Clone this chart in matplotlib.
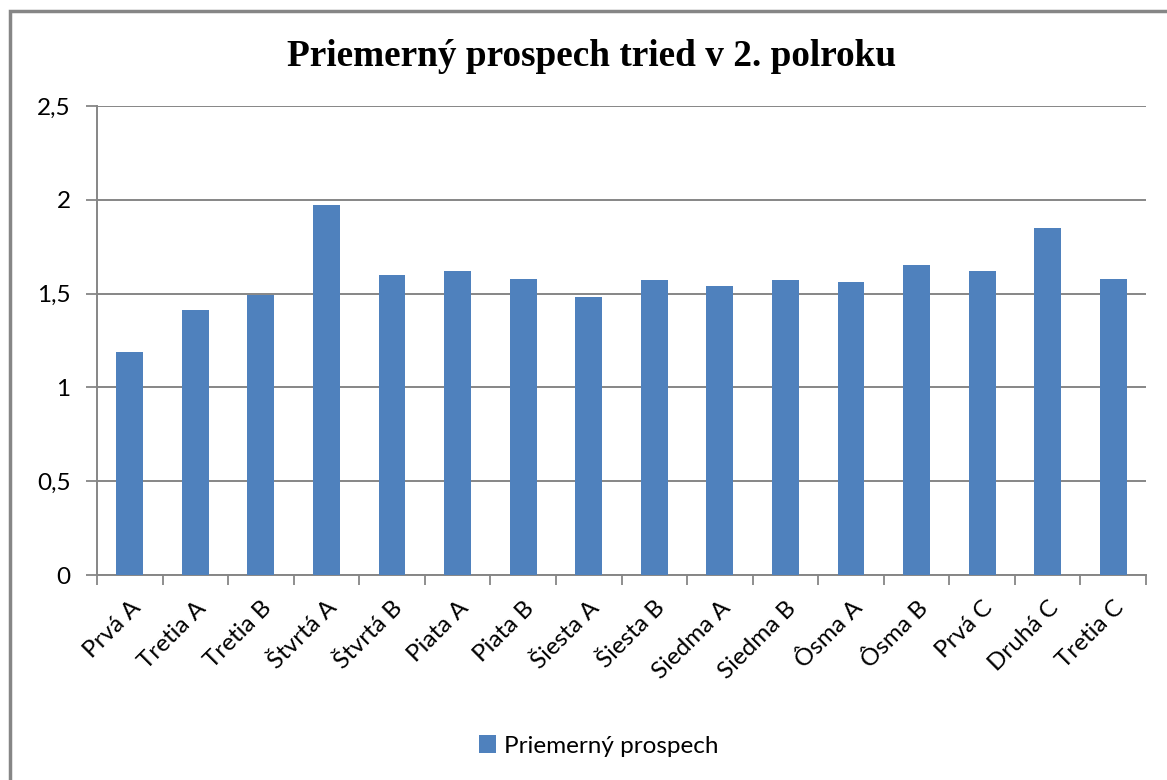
import matplotlib.pyplot as plt
from matplotlib.patches import Rectangle
from matplotlib.ticker import FixedLocator

# data
classes = ["Prvá A", "Tretia A", "Tretia B", "Štvrtá A", "Štvrtá B", "Piata A",
           "Piata B", "Šiesta A", "Šiesta B", "Siedma A", "Siedma B", "Ôsma A",
           "Ôsma B", "Prvá C", "Druhá C", "Tretia C"]
avg_grade = [1.19, 1.41, 1.49, 1.97, 1.60, 1.62, 1.58, 1.48, 1.57, 1.54, 1.57,
             1.56, 1.65, 1.62, 1.85, 1.58]
y_ticks = [0, 0.5, 1, 1.5, 2, 2.5]
y_labels = ["0", "0,5", "1", "1,5", "2", "2,5"]

series_name = "Priemerný prospech"
title = "Priemerný prospech tried v 2. polroku"

bar_color = "#4F81BD"
axis_gray = "#868686"
label_font = ["Lato", "DejaVu Sans"]

fig = plt.figure(figsize=(11.67, 7.8), dpi=100)

# outer chart frame (only top and left edge visible in the reference)
fig.patches.append(Rectangle((10 / 1167, -0.05), 1.2, 1 - 11 / 780 + 0.05,
                             transform=fig.transFigure, fill=False,
                             edgecolor=axis_gray, linewidth=2.5))

ax = fig.add_axes([97 / 1167, 1 - 575 / 780, (1146 - 97) / 1167, (575 - 106) / 780])

x = range(len(classes))
ax.bar(x, avg_grade, width=0.41, color=bar_color, label=series_name, zorder=3)

ax.set_xlim(-0.5, len(classes) - 0.5)
ax.set_ylim(0, 2.5)
ax.set_yticks(y_ticks)
ax.set_yticklabels(y_labels, fontsize=17.5, family=label_font)
ax.yaxis.grid(True, color=axis_gray, linewidth=1.4, zorder=0)

ax.set_xticks(list(x))
ax.set_xticklabels(classes, rotation=45, ha="right", rotation_mode="anchor",
                   fontsize=17.5, family=label_font)
ax.tick_params(axis="x", which="major", length=0, pad=16)
ax.xaxis.set_minor_locator(FixedLocator([i - 0.5 for i in range(len(classes) + 1)]))
ax.tick_params(axis="x", which="minor", length=7, color=axis_gray, width=1.3)
ax.tick_params(axis="y", length=8, color=axis_gray, width=1.3, pad=11)

for side in ["top", "right"]:
    ax.spines[side].set_visible(False)
for side in ["left", "bottom"]:
    ax.spines[side].set_color(axis_gray)
    ax.spines[side].set_linewidth(1.4)

fig.text(0.507, 1 - 56 / 780, title, ha="center", va="center",
         fontsize=26.8, fontweight="bold", family="Liberation Serif")

fig.legend(loc="center", bbox_to_anchor=(0.513, 1 - 746 / 780), frameon=False,
           prop={"family": label_font, "size": 17.5}, handlelength=0.7,
           handleheight=0.7, handletextpad=0.3)

fig.savefig("out.png", dpi=100)
